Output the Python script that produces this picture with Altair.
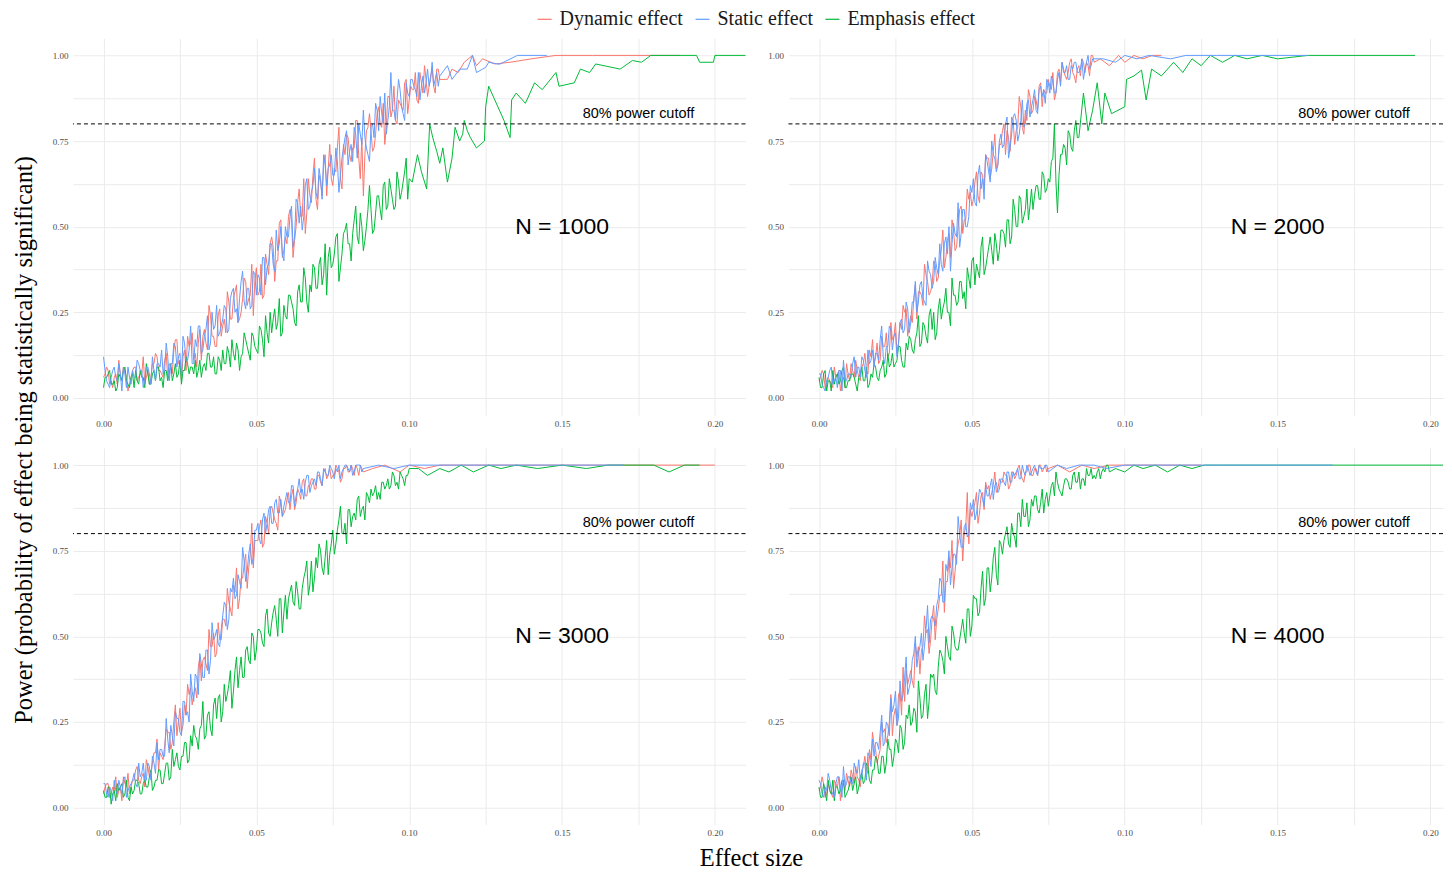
import altair as alt
import pandas as pd

STEP = 0.001
SERIES = ["Dynamic effect", "Static effect", "Emphasis effect"]
COLORS = ["#F8766D", "#619CFF", "#00BA38"]
DRAW_ORDER = ["Dynamic effect", "Emphasis effect", "Static effect"]

# Each series: values on the 0.001 grid, values half-way between them, then a sparse tail.
# ---------------- N = 1000 ----------------
n1000_dyn = [.06,.09,.04,.03,.07,.11,.05,.08,.02,.06,
             .09,.05,.07,.12,.06,.04,.10,.13,.08,.07,
             .11,.06,.09,.14,.17,.10,.12,.08,.15,.19,
             .13,.16,.11,.20,.14,.24,.18,.15,.26,.21,
             .19,.28,.23,.31,.22,.25,.35,.27,.30,.24,
             .38,.31,.29,.42,.36,.47,.34,.40,.52,.43,
             .45,.55,.41,.50,.61,.53,.48,.64,.57,.70,
             .55,.63,.68,.59,.74,.62,.66,.79,.61,.71,
             .76,.69,.73,.81,.64,.59,.78,.83,.72,.77,
             .85,.79,.74,.88,.82,.91,.80,.86,.84,.93,
             .87,.90,.95,.86,.92,.97,.88,.94,.91,.96,.93]
n1000_dyn_mid = [.07,.08,.05,.06,.04,.07,.09,.06,.04,.08,
                 .09,.06,.07,.04,.08,.06,.10,.12,.08,.06,
                 .13,.10,.07,.17,.10,.05,.14,.18,.16,.11,
                 .09,.20,.18,.16,.27,.18,.15,.24,.18,.23,
                 .31,.23,.29,.33,.23,.29,.34,.29,.39,.34,
                 .30,.39,.30,.39,.45,.44,.40,.51,.41,.47,
                 .53,.52,.46,.57,.53,.64,.54,.59,.65,.58,
                 .65,.59,.71,.67,.64,.67,.73,.64,.74,.77,
                 .71,.73,.81,.70,.76,.71,.79,.78,.73,.83,
                 .80,.86,.79,.88,.84,.81,.87,.85,.92,.83,
                 .91,.90,.87,.95,.89,.93,.91,.96,.89,.96]
n1000_dyn_tx = [0.1125,0.114,0.116,0.118,0.1207,0.122,0.124,0.128,0.133,0.14,0.148,0.16,0.1885]
n1000_dyn_ty = [0.93,0.96,0.95,0.98,1.0,0.97,0.99,0.975,0.98,0.99,1.0,1.0,1.0]

n1000_sta = [.12,.05,.03,.08,.06,.10,.02,.07,.09,.04,
             .06,.11,.08,.03,.09,.07,.12,.05,.10,.14,
             .08,.12,.10,.16,.09,.13,.18,.11,.14,.10,
             .17,.21,.13,.18,.24,.16,.20,.27,.19,.23,
             .26,.20,.31,.25,.22,.34,.28,.32,.26,.37,
             .30,.35,.41,.33,.39,.45,.37,.43,.50,.40,
             .47,.53,.44,.58,.51,.49,.62,.55,.60,.67,
             .58,.64,.71,.62,.68,.65,.73,.60,.70,.76,
             .68,.74,.79,.70,.77,.84,.73,.69,.80,.86,
             .78,.83,.89,.81,.95,.84,.87,.90,.83,.92,
             .88,.93,.90,.95,.91,.89,.96,.93,.91,.95,.94]
n1000_sta_mid = [.08,.04,.06,.09,.05,.07,.09,.03,.06,.08,
                 .06,.10,.08,.05,.09,.04,.08,.10,.09,.07,
                 .16,.05,.10,.15,.12,.06,.16,.11,.21,.10,
                 .15,.21,.14,.20,.14,.25,.21,.18,.21,.27,
                 .19,.29,.32,.26,.29,.37,.26,.32,.27,.36,
                 .36,.30,.41,.38,.45,.39,.49,.45,.42,.50,
                 .47,.56,.47,.57,.56,.53,.64,.56,.62,.60,
                 .67,.58,.68,.67,.71,.65,.69,.65,.73,.78,
                 .72,.69,.77,.80,.74,.76,.71,.79,.76,.84,
                 .88,.80,.77,.85,.84,.81,.93,.85,.81,.89,
                 .93,.91,.88,.87,.94,.92,.91,.98,.93,.91]
n1000_sta_tx = [0.1125,0.114,0.1165,0.119,0.1207,0.122,0.125,0.126,0.1295,0.1354,0.145]
n1000_sta_ty = [0.97,0.93,0.96,0.96,1.0,0.95,0.965,0.98,0.974,1.0,1.0]

n1000_emp = [.03,.06,.08,.04,.02,.07,.05,.09,.04,.06,
             .03,.05,.08,.06,.10,.04,.07,.05,.09,.06,
             .08,.05,.10,.07,.06,.11,.08,.12,.07,.09,
             .11,.08,.06,.10,.13,.09,.12,.07,.11,.14,
             .10,.13,.17,.11,.14,.12,.19,.15,.11,.18,
             .14,.21,.17,.24,.16,.19,.26,.22,.18,.27,
             .23,.30,.26,.21,.33,.28,.35,.25,.31,.38,
             .32,.41,.36,.30,.44,.39,.47,.34,.42,.49,
             .45,.40,.52,.47,.54,.43,.50,.62,.48,.54,
             .59,.52,.63,.56,.61,.55,.66,.58,.63,.70,
             .64]
n1000_emp_mid = [.06,.07,.04,.05,.03,.06,.08,.05,.03,.07,
                 .08,.04,.06,.03,.07,.04,.08,.09,.05,.03,
                 .08,.07,.05,.10,.07,.04,.08,.10,.09,.07,
                 .06,.11,.09,.08,.13,.09,.07,.12,.08,.10,
                 .15,.09,.13,.16,.08,.13,.17,.13,.19,.15,
                 .13,.20,.12,.19,.25,.23,.20,.29,.19,.24,
                 .30,.28,.22,.31,.28,.38,.28,.33,.39,.32,
                 .39,.33,.45,.41,.38,.42,.48,.38,.48,.51,
                 .45,.48,.56,.45,.50,.46,.55,.55,.49,.59,
                 .55,.62,.55,.64,.58,.56,.63,.60,.66,.58]
n1000_emp_tx = [0.101,0.1027,0.104,0.1057,0.1067,0.1077,0.109,0.110,0.111,0.1125,
                0.114,0.115,0.1165,0.1175,0.118,0.119,0.12,0.122,0.1246,0.125,
                0.126,0.131,0.133,0.1335,0.135,0.138,0.141,0.1435,0.148,0.149,
                0.154,0.156,0.159,0.161,0.169,0.173,0.176,0.179,0.194,0.195,
                0.1995,0.2,0.215]
n1000_emp_ty = [0.63,0.71,0.66,0.61,0.80,0.76,0.72,0.685,0.73,0.63,
                0.70,0.79,0.75,0.77,0.81,0.78,0.76,0.73,0.75,0.85,
                0.91,0.81,0.76,0.87,0.89,0.86,0.92,0.90,0.95,0.91,
                0.92,0.96,0.95,0.975,0.96,0.985,0.98,1.0,1.0,0.98,
                0.98,1.0,1.0]

# ---------------- N = 2000 ----------------
n2000_dyn = [.05,.08,.03,.06,.04,.09,.07,.02,.06,.10,
             .05,.08,.11,.06,.09,.13,.07,.12,.10,.16,
             .11,.15,.19,.13,.17,.22,.16,.20,.25,.18,
             .24,.29,.23,.31,.27,.36,.30,.33,.39,.35,
             .43,.38,.46,.41,.49,.44,.55,.48,.52,.58,
             .56,.63,.59,.66,.61,.70,.64,.72,.67,.74,
             .78,.71,.76,.82,.74,.79,.85,.77,.81,.88,
             .84,.87,.91,.85,.89,.93,.90,.87,.95,.92,
             .96,.93,.98,.95,.92,.97,.99,.95,.97,1.0,
             .98]
n2000_dyn_mid = [.06,.07,.04,.05,.03,.06,.08,.05,.03,.07,
                 .10,.06,.08,.05,.10,.08,.14,.17,.12,.10,
                 .18,.15,.12,.22,.18,.13,.22,.27,.26,.21,
                 .22,.33,.31,.30,.39,.34,.31,.40,.34,.40,
                 .49,.41,.48,.52,.43,.50,.56,.52,.61,.60,
                 .58,.66,.57,.65,.71,.70,.67,.77,.68,.74,
                 .80,.78,.72,.81,.78,.88,.79,.84,.90,.83,
                 .88,.84,.92,.90,.89,.91,.95,.89,.96,.98,
                 .94,.95,.99,.94,.96,.94,.98,.98,.94,1.0]
n2000_dyn_tx = [0.092,0.095,0.098,0.1,0.103,0.106,0.109,0.112]
n2000_dyn_ty = [0.99,0.97,1.0,0.98,1.0,0.99,1.0,1.0]

n2000_sta = [.07,.04,.02,.06,.09,.05,.03,.08,.11,.05,
             .07,.10,.06,.09,.12,.08,.14,.11,.09,.13,
             .17,.12,.15,.21,.14,.19,.16,.23,.20,.26,
             .22,.28,.25,.33,.29,.27,.37,.32,.41,.36,
             .39,.45,.42,.37,.51,.47,.44,.55,.50,.53,
             .60,.57,.65,.61,.58,.69,.63,.71,.66,.75,
             .73,.80,.70,.77,.83,.75,.81,.79,.86,.82,
             .87,.84,.90,.88,.86,.92,.94,.89,.93,.91,
             .95,.97,.93,.96,.98,.95,.99,.96,1.0,.97,
             .99]
n2000_sta_mid = [.07,.03,.05,.08,.04,.06,.08,.02,.05,.07,
                 .06,.12,.09,.06,.11,.06,.10,.14,.13,.11,
                 .21,.10,.15,.20,.18,.12,.22,.19,.28,.19,
                 .28,.34,.28,.34,.28,.40,.36,.34,.38,.45,
                 .37,.47,.50,.45,.48,.57,.48,.55,.50,.62,
                 .64,.56,.68,.64,.71,.66,.75,.70,.68,.77,
                 .74,.82,.73,.82,.81,.77,.87,.80,.87,.85,
                 .90,.83,.91,.90,.93,.89,.92,.89,.95,.98,
                 .95,.93,.97,.98,.95,.96,.93,.98,.96,.99]
n2000_sta_tx = [0.093,0.097,0.1,0.104,0.108,0.115,0.12,0.13,0.16]
n2000_sta_ty = [0.99,0.98,1.0,0.99,1.0,0.99,1.0,1.0,1.0]

n2000_emp = [.06,.03,.08,.05,.02,.04,.07,.05,.09,.03,
             .05,.07,.04,.06,.09,.05,.03,.07,.10,.06,
             .08,.11,.07,.09,.13,.10,.15,.11,.09,.14,
             .17,.13,.19,.15,.22,.18,.24,.20,.17,.26,
             .23,.28,.25,.21,.30,.27,.34,.29,.26,.35,
             .40,.33,.37,.44,.36,.41,.47,.39,.45,.43,
             .49,.44,.52,.47,.55,.50,.58,.53,.61,.56,
             .55,.62,.58,.66,.60,.64,.69,.80,.54,.71,
             .74,.68,.77,.72,.81,.76]
n2000_emp_mid = [.03,.07,.02,.05,.08,.06,.04,.08,.03,.05,
                 .07,.06,.02,.07,.05,.09,.04,.06,.09,.05,
                 .09,.06,.13,.10,.09,.11,.15,.09,.16,.18,
                 .14,.17,.24,.16,.21,.16,.26,.25,.19,.29,
                 .26,.32,.25,.35,.30,.28,.34,.31,.38,.32,
                 .41,.39,.35,.47,.38,.44,.43,.48,.40,.49,
                 .48,.52,.45,.58,.50,.59,.51,.55,.52,.61,
                 .59,.62,.58,.65,.61,.63,.70,.63,.65,.71,
                 .73,.78,.73,.78,.76]
n2000_emp_tx = [0.0865,0.088,0.0895,0.091,0.0925,0.0935,0.0957,0.1,0.1006,
                0.103,0.1055,0.107,0.1088,0.112,0.116,0.119,0.122,0.125,0.128,
                0.132,0.136,0.14,0.145,0.15,0.16,0.195]
n2000_emp_ty = [0.89,0.78,0.84,0.92,0.80,0.89,0.83,0.85,0.93,
                0.94,0.957,0.87,0.96,0.94,0.98,0.95,0.99,0.97,1.0,
                0.98,1.0,0.99,1.0,0.99,1.0,1.0]

# ---------------- N = 3000 ----------------
n3000_dyn = [.04,.07,.03,.06,.09,.05,.02,.07,.10,.06,
             .08,.12,.07,.10,.14,.09,.13,.16,.11,.15,
             .18,.22,.17,.25,.21,.29,.24,.27,.33,.30,
             .35,.41,.37,.44,.40,.47,.51,.45,.49,.55,
             .53,.60,.56,.63,.58,.67,.71,.64,.74,.70,
             .78,.82,.76,.85,.80,.88,.84,.81,.89,.86,
             .90,.87,.93,.89,.92,.95,.91,.94,.96,.93,
             .97,.95,.98,.96,.99,.97,1.0,.98,.96,.99,
             .98,1.0,.97,.99,1.0,.98]
n3000_dyn_mid = [.06,.07,.04,.05,.03,.06,.09,.06,.04,.08,
                 .11,.08,.09,.06,.12,.10,.16,.20,.16,.14,
                 .23,.22,.19,.30,.25,.22,.30,.36,.35,.33,
                 .32,.44,.43,.42,.52,.47,.44,.54,.49,.55,
                 .64,.58,.65,.70,.61,.67,.74,.70,.83,.78,
                 .78,.84,.77,.83,.87,.86,.83,.91,.85,.87,
                 .92,.91,.87,.93,.90,.96,.91,.94,.96,.93,
                 .97,.94,.99,.97,.96,.97,.99,.95,.99,1.0,
                 .98,.99,1.0,.97,.99]
n3000_dyn_tx = [0.088,0.092,0.097,0.1,0.105,0.11,0.12,0.13,0.2]
n3000_dyn_ty = [0.99,1.0,0.98,1.0,0.99,1.0,1.0,1.0,1.0]

n3000_sta = [.07,.04,.06,.02,.05,.08,.04,.09,.05,.07,
             .10,.06,.09,.13,.08,.12,.15,.10,.14,.17,
             .15,.20,.24,.18,.26,.22,.31,.27,.25,.34,
             .39,.33,.42,.38,.46,.43,.49,.52,.47,.56,
             .59,.55,.63,.61,.68,.64,.72,.69,.77,.73,
             .81,.78,.84,.80,.87,.83,.89,.86,.90,.88,
             .92,.89,.94,.91,.96,.93,.95,.97,.94,.96,
             .98,.96,.99,.97,1.0,.98,.99,1.0,.98,1.0,
             .99,1.0,.98,1.0,1.0,.99]
n3000_sta_mid = [.07,.03,.05,.08,.04,.06,.08,.03,.06,.08,
                 .07,.13,.10,.08,.13,.08,.13,.19,.17,.15,
                 .26,.16,.21,.28,.26,.21,.31,.28,.39,.31,
                 .38,.45,.38,.46,.39,.54,.50,.48,.52,.60,
                 .52,.64,.67,.62,.66,.76,.66,.74,.71,.81,
                 .83,.77,.86,.83,.88,.83,.90,.86,.85,.90,
                 .89,.94,.88,.93,.92,.90,.97,.92,.95,.94,
                 .98,.94,.98,.97,.99,.96,.98,.96,.99,1.0,
                 .98,.97,1.0,1.0,.98]
n3000_sta_tx = [0.09,0.095,0.1,0.17]
n3000_sta_ty = [1.0,0.99,1.0,1.0]

n3000_emp = [.05,.03,.06,.04,.02,.05,.07,.04,.03,.06,
             .05,.08,.04,.07,.06,.09,.05,.08,.11,.07,
             .10,.13,.09,.12,.16,.11,.15,.19,.14,.18,
             .21,.17,.24,.20,.27,.23,.30,.26,.33,.28,
             .31,.36,.29,.40,.35,.44,.38,.47,.42,.50,
             .46,.52,.48,.56,.51,.54,.59,.50,.61,.57,
             .55,.63,.60,.66,.58,.64,.69,.62,.72,.67,
             .70,.75,.68,.78,.74,.81,.77,.84,.80,.83,
             .87,.82,.86,.90,.85,.88,.92,.89,.91,.94,
             .92,.95,.93,.96,.94,.97,.95,.98,.96,.97,
             .99]
n3000_emp_mid = [.03,.06,.01,.05,.07,.06,.03,.08,.02,.04,
                 .08,.07,.04,.08,.06,.11,.06,.08,.11,.07,
                 .13,.08,.17,.14,.12,.15,.19,.13,.21,.24,
                 .20,.23,.31,.21,.28,.21,.32,.32,.25,.36,
                 .33,.40,.34,.44,.40,.38,.46,.43,.51,.43,
                 .52,.51,.47,.58,.50,.57,.55,.61,.51,.62,
                 .61,.65,.59,.63,.58,.67,.72,.65,.63,.73,
                 .77,.70,.73,.68,.77,.74,.81,.88,.80,.77,
                 .87,.85,.84,.91,.87,.84,.91,.93,.92,.90,
                 .90,.95,.94,.93,.98,.94,.93,.97,.94,.97]
n3000_emp_tx = [0.103,0.106,0.11,0.113,0.117,0.121,0.126,0.13,0.135,0.142,
                0.15,0.158,0.165,0.18,0.185,0.19,0.195]
n3000_emp_ty = [0.99,0.97,0.99,0.98,1.0,0.98,1.0,0.99,1.0,0.99,
                1.0,0.99,1.0,1.0,0.98,1.0,1.0]

# ---------------- N = 4000 ----------------
n4000_dyn = [.05,.09,.03,.07,.04,.08,.06,.02,.07,.10,
             .06,.09,.12,.08,.11,.15,.10,.14,.18,.13,
             .17,.22,.19,.25,.21,.29,.33,.27,.31,.36,
             .40,.35,.44,.39,.47,.51,.45,.55,.49,.58,
             .62,.57,.66,.70,.64,.74,.79,.72,.82,.77,
             .85,.89,.83,.91,.87,.93,.90,.94,.92,.96,
             .95,.97,.93,.98,.96,.99,.97,.95,.98,1.0,
             .97,.99,1.0,.98,1.0,.99]
n4000_dyn_mid = [.06,.07,.04,.05,.03,.07,.09,.06,.05,.08,
                 .11,.07,.09,.06,.12,.11,.17,.22,.17,.15,
                 .25,.23,.21,.33,.27,.24,.34,.41,.40,.38,
                 .37,.48,.47,.46,.56,.52,.49,.59,.55,.62,
                 .72,.66,.73,.78,.69,.77,.84,.80,.92,.87,
                 .87,.92,.86,.92,.95,.94,.92,.98,.93,.95,
                 .98,.97,.94,.98,.97,1.0,.96,.98,1.0,.97,
                 .99,.97,1.0,.99,.98]
n4000_dyn_tx = [0.078,0.082,0.086,0.09,0.095,0.1,0.125]
n4000_dyn_ty = [1.0,0.98,1.0,0.99,1.0,1.0,1.0]

n4000_sta = [.08,.04,.06,.10,.05,.03,.09,.06,.12,.07,
             .09,.07,.11,.14,.09,.13,.16,.12,.15,.19,
             .22,.18,.25,.21,.28,.34,.26,.31,.38,.33,
             .37,.45,.41,.47,.43,.52,.48,.56,.53,.61,
             .66,.60,.69,.65,.74,.71,.80,.76,.83,.80,
             .87,.84,.89,.92,.88,.91,.94,.90,.95,.93,
             .96,.94,.98,.95,.97,.99,.96,.98,1.0,.97,
             .99,.98,1.0,.99,1.0,.98]
n4000_sta_mid = [.07,.03,.05,.08,.04,.07,.09,.03,.06,.09,
                 .07,.13,.10,.08,.13,.08,.15,.20,.19,.17,
                 .27,.19,.24,.32,.30,.24,.37,.33,.44,.35,
                 .43,.50,.45,.51,.47,.59,.55,.55,.59,.67,
                 .60,.71,.75,.70,.74,.85,.76,.82,.79,.89,
                 .90,.86,.93,.90,.94,.91,.96,.94,.92,.96,
                 .95,.98,.95,.98,.98,.96,1.0,.97,.99,.98,
                 1.0,.97,.99,.99,1.0]
n4000_sta_tx = [0.078,0.081,0.085,0.09,0.094,0.1,0.168]
n4000_sta_ty = [1.0,0.99,1.0,1.0,0.99,1.0,1.0]

n4000_emp = [.06,.03,.05,.08,.04,.02,.06,.05,.08,.04,
             .07,.05,.09,.06,.10,.08,.12,.07,.11,.14,
             .10,.15,.13,.17,.12,.20,.16,.23,.19,.26,
             .24,.29,.22,.32,.27,.36,.31,.38,.34,.41,
             .45,.39,.47,.43,.51,.46,.49,.55,.48,.58,
             .53,.61,.56,.64,.59,.70,.63,.73,.68,.78,
             .74,.80,.77,.83,.79,.86,.82,.85,.89,.84,
             .88,.91,.86,.93,.90,.88,.94,.91,.95,.92,
             .94,.96,.93,.97,.95,.98,.96,.94,.97,.99,
             .97,.98,.96,.99,1.0,.98]
n4000_emp_mid = [.03,.07,.02,.05,.08,.06,.04,.08,.03,.05,
                 .09,.07,.04,.09,.07,.13,.08,.11,.15,.10,
                 .15,.10,.20,.17,.15,.19,.24,.17,.27,.30,
                 .25,.28,.37,.26,.33,.26,.39,.39,.33,.46,
                 .43,.50,.44,.53,.47,.46,.52,.51,.58,.50,
                 .62,.61,.57,.69,.61,.70,.67,.76,.65,.77,
                 .78,.82,.76,.80,.76,.86,.90,.85,.82,.90,
                 .91,.87,.89,.86,.92,.91,.95,.98,.93,.91,
                 .96,.95,.93,.98,.95,.93,.96,.99,.97,.96,
                 .96,.99,.98,.98,1.0]
n4000_emp_tx = [0.097,0.1,0.103,0.106,0.11,0.114,0.118,0.122,0.126,0.13,0.22]
n4000_emp_ty = [0.99,0.98,1.0,0.99,1.0,0.98,1.0,0.99,1.0,1.0,1.0]

PANELS = [
    ("N = 1000", {"Dynamic effect": (n1000_dyn, n1000_dyn_mid, n1000_dyn_tx, n1000_dyn_ty),
                  "Static effect": (n1000_sta, n1000_sta_mid, n1000_sta_tx, n1000_sta_ty),
                  "Emphasis effect": (n1000_emp, n1000_emp_mid, n1000_emp_tx, n1000_emp_ty)}),
    ("N = 2000", {"Dynamic effect": (n2000_dyn, n2000_dyn_mid, n2000_dyn_tx, n2000_dyn_ty),
                  "Static effect": (n2000_sta, n2000_sta_mid, n2000_sta_tx, n2000_sta_ty),
                  "Emphasis effect": (n2000_emp, n2000_emp_mid, n2000_emp_tx, n2000_emp_ty)}),
    ("N = 3000", {"Dynamic effect": (n3000_dyn, n3000_dyn_mid, n3000_dyn_tx, n3000_dyn_ty),
                  "Static effect": (n3000_sta, n3000_sta_mid, n3000_sta_tx, n3000_sta_ty),
                  "Emphasis effect": (n3000_emp, n3000_emp_mid, n3000_emp_tx, n3000_emp_ty)}),
    ("N = 4000", {"Dynamic effect": (n4000_dyn, n4000_dyn_mid, n4000_dyn_tx, n4000_dyn_ty),
                  "Static effect": (n4000_sta, n4000_sta_mid, n4000_sta_tx, n4000_sta_ty),
                  "Emphasis effect": (n4000_emp, n4000_emp_mid, n4000_emp_tx, n4000_emp_ty)}),
]

X_TICKS = [0.0, 0.025, 0.05, 0.075, 0.1, 0.125, 0.15, 0.175, 0.2]
Y_TICKS = [0.0, 0.125, 0.25, 0.375, 0.5, 0.625, 0.75, 0.875, 1.0]
CUTOFF = 0.8
Y_TITLE = "Power (probability of effect being statistically significant)"
X_TITLE = "Effect size"

PX_PER_UNIT = 673 / 0.22
LEFT_W = 673
RIGHT_W = 655
PANEL_H = 377

GRID = "#EBEBEB"
SERIF = "Liberation Serif"
SANS = "Liberation Sans"


def frame(series_dict):
    rows = []
    for name, (dense, mid, tx, ty) in series_dict.items():
        assert len(tx) == len(ty)
        assert len(mid) == len(dense) - 1, (name, len(mid), len(dense))
        for i, v in enumerate(dense):
            rows.append({"series": name, "x": round(i * STEP, 5), "y": v})
        for i, v in enumerate(mid):
            rows.append({"series": name, "x": round(i * STEP + STEP / 2, 5), "y": v})
        for a, b in zip(tx, ty):
            rows.append({"series": name, "x": a, "y": b})
    return pd.DataFrame(rows).sort_values(["series", "x"]).reset_index(drop=True)


legend = alt.Legend(orient="none", legendX=462, legendY=-29, direction="horizontal",
                    title=None, symbolType="stroke", symbolSize=196, symbolStrokeWidth=1.2,
                    labelFont=SERIF, labelFontSize=20, labelColor="#1A1A1A",
                    labelOffset=5, columnPadding=9, labelLimit=400)


def panel(label, series_dict, width, extra=None):
    xmax = -0.01 + width / PX_PER_UNIT
    xs = alt.Scale(domain=[-0.01, xmax], nice=False, zero=False)
    ys = alt.Scale(domain=[-0.05, 1.05], nice=False, zero=False)
    xaxis = alt.Axis(values=X_TICKS, title=None, grid=True, gridColor=GRID, gridWidth=1,
                     domain=False, ticks=False, labelFont=SERIF, labelFontSize=9,
                     labelColor="#4D4D4D", labelPadding=4, labelOverlap=False,
                     labelFlush=False,
                     labelExpr="round(datum.value*1000) % 50 == 0 ? format(datum.value, '.2f') : ''")
    yaxis = alt.Axis(values=Y_TICKS, title=None, grid=True, gridColor=GRID, gridWidth=1,
                     domain=False, ticks=False, labelFont=SERIF, labelFontSize=9,
                     labelColor="#4D4D4D", labelPadding=5, labelOverlap=False,
                     labelFlush=False,
                     labelExpr="round(datum.value*1000) % 250 == 0 ? format(datum.value, '.2f') : ''")
    df = frame(series_dict)
    base = alt.Chart(df)
    layers = []
    for s in DRAW_ORDER:
        layers.append(
            base.transform_filter(alt.datum.series == s)
            .mark_line(strokeWidth=1.0, clip=True)
            .encode(
                x=alt.X("x:Q", scale=xs, axis=xaxis),
                y=alt.Y("y:Q", scale=ys, axis=yaxis),
                color=alt.Color("series:N", scale=alt.Scale(domain=SERIES, range=COLORS),
                                legend=legend),
                order=alt.Order("x:Q"),
            )
        )
    rule = alt.Chart(pd.DataFrame({"y": [CUTOFF]})).mark_rule(
        color="black", strokeWidth=1, strokeDash=[4, 3]
    ).encode(y=alt.Y("y:Q", scale=ys, axis=yaxis))
    cut_txt = alt.Chart(pd.DataFrame({"x": [0.175], "y": [0.83], "t": ["80% power cutoff"]})).mark_text(
        font=SANS, fontSize=14.5, color="black"
    ).encode(x=alt.X("x:Q", scale=xs, axis=xaxis), y=alt.Y("y:Q", scale=ys, axis=yaxis), text="t:N")
    n_txt = alt.Chart(pd.DataFrame({"x": [0.15], "y": [0.5], "t": [label]})).mark_text(
        font=SANS, fontSize=23, color="black"
    ).encode(x=alt.X("x:Q", scale=xs, axis=xaxis), y=alt.Y("y:Q", scale=ys, axis=yaxis), text="t:N")
    parts = layers + [rule, cut_txt, n_txt]
    if extra is not None:
        parts.append(extra)
    return alt.layer(*parts).properties(width=width, height=PANEL_H)


ytitle = alt.Chart(pd.DataFrame({"t": [Y_TITLE]})).mark_text(
    font=SERIF, fontSize=24.5, color="black", angle=270, baseline="middle", align="center"
).encode(x=alt.value(-48), y=alt.value(402), text="t:N")

xtitle = alt.Chart(pd.DataFrame({"t": [X_TITLE]})).mark_text(
    font=SERIF, fontSize=24.5, color="black", baseline="middle", align="center"
).encode(x=alt.value(679), y=alt.value(411), text="t:N")

p1 = panel(PANELS[0][0], PANELS[0][1], LEFT_W, ytitle)
p2 = panel(PANELS[1][0], PANELS[1][1], RIGHT_W)
p3 = panel(PANELS[2][0], PANELS[2][1], LEFT_W, xtitle)
p4 = panel(PANELS[3][0], PANELS[3][1], RIGHT_W)

chart = alt.concat(p1, p2, p3, p4, columns=2, spacing={"row": 33, "column": 43},
                   bounds="flush").resolve_scale(
    x="independent", y="independent", color="shared"
).properties(
    padding={"left": 3, "top": 1, "right": 0, "bottom": 0},
    background="white",
).configure_view(stroke="transparent", strokeWidth=0)

chart.save("out.html", embed_options={"renderer": "svg", "actions": False})
